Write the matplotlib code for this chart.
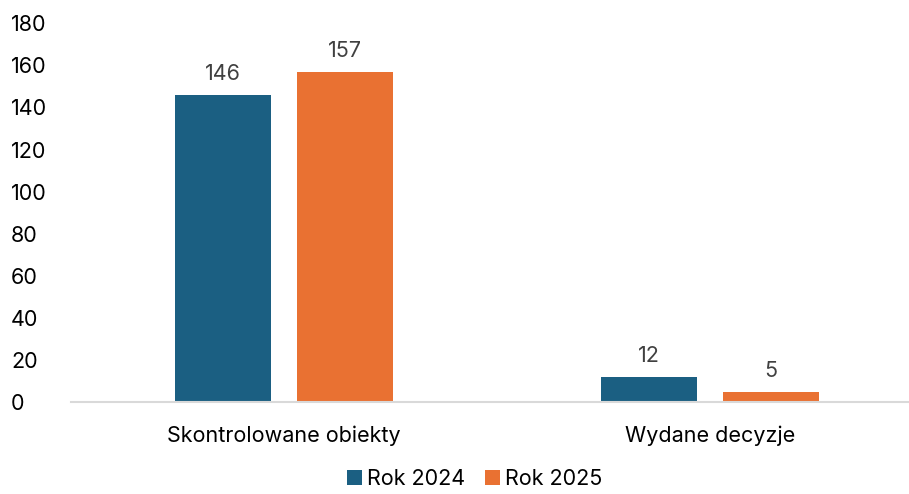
import numpy as np
import matplotlib.pyplot as plt

categories = ["Skontrolowane obiekty", "Wydane decyzje"]
rok_2024 = [146, 12]
rok_2025 = [157, 5]
series_names = ["Rok 2024", "Rok 2025"]
yticks = [0, 20, 40, 60, 80, 100, 120, 140, 160, 180]

plt.rcParams['font.family'] = ['Inter', 'DejaVu Sans']

fig = plt.figure(figsize=(9.09, 4.94), dpi=100)
ax = fig.add_axes([0.078, 0.186, 0.922, 0.767])

x = np.arange(len(categories))
w = 0.225
off = 0.143
b1 = ax.bar(x - off, rok_2024, w, color="#1b5f82", label=series_names[0])
b2 = ax.bar(x + off, rok_2025, w, color="#e97132", label=series_names[1])

#value labels above each bar
for bars in (b1, b2):
    for b in bars:
        ax.text(b.get_x() + b.get_width() / 2, b.get_height() + 5, str(int(b.get_height())),
                ha="center", va="bottom", fontsize=15.5, color="#404040")

ax.set_xlim(-0.5, 1.467)
ax.set_ylim(0, 180)
ax.set_yticks(yticks)
ax.set_xticks(x)
ax.set_xticklabels(categories)
ax.tick_params(axis="both", length=0, labelsize=15.5, colors="#000000")
ax.tick_params(axis="x", pad=17)
ax.tick_params(axis="y", pad=43)
for lab in ax.get_yticklabels():
    lab.set_horizontalalignment("left")
for s in ["top", "right", "left"]:
    ax.spines[s].set_visible(False)
ax.spines["bottom"].set_color("#d9d9d9")
ax.spines["bottom"].set_linewidth(1.5)

fig.legend(loc="lower center", bbox_to_anchor=(0.522, -0.03), ncol=2, frameon=False,
           fontsize=15.5, handlelength=0.7, handleheight=0.7, handletextpad=0.25, columnspacing=0.9)

fig.savefig("out.png", dpi=100)
